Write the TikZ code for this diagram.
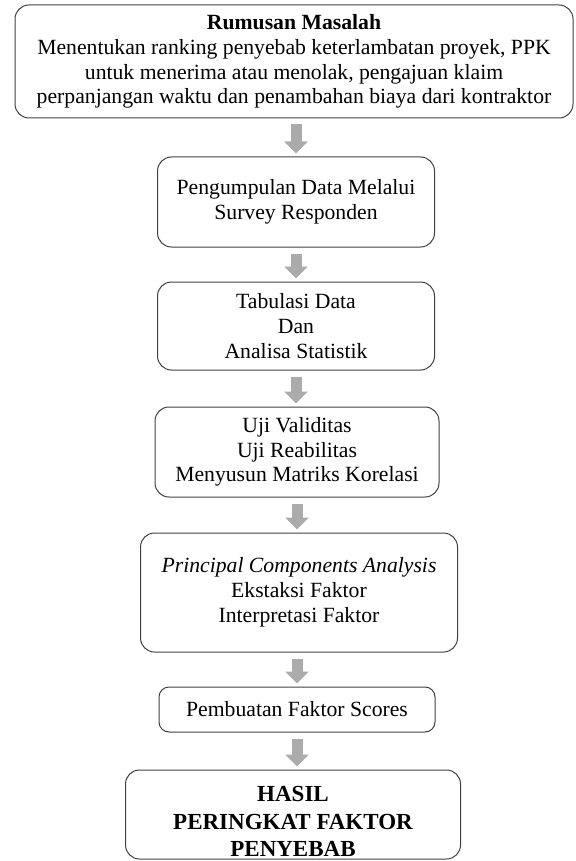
\documentclass[tikz,border=0pt]{standalone}
\usepackage{fontspec}
\setmainfont{Liberation Serif}
\usetikzlibrary{arrows.meta}

\tikzset{
  box/.style={draw=black!75,line width=1pt,rounded corners=14pt,align=center,
    font=\fontsize{21.7}{24.8}\selectfont,inner sep=0pt},
  flow/.style={draw=black!33,line width=11pt,-{Triangle[width=23pt,length=12pt]},
    shorten <=6pt,shorten >=3pt}
}

\begin{document}
\begin{tikzpicture}[x=1pt,y=-1pt]
                      \useasboundingbox (0,0) rectangle (575,861);
                      \node[box,minimum width=558pt,minimum height=113pt](masalah)at(294,61.5){\textbf{Rumusan Masalah}\\Menentukan ranking penyebab keterlambatan proyek, PPK\\untuk menerima atau menolak, pengajuan klaim\\perpanjangan waktu dan penambahan biaya dari kontraktor};
                      \node[box,minimum width=277pt,minimum height=90pt](survey)at(296,202){Pengumpulan Data Melalui\\Survey Responden};
                      \node[box,minimum width=277pt,minimum height=88pt](tabulasi)at(296,326){Tabulasi Data\\Dan\\Analisa Statistik};
                      \node[box,minimum width=284pt,minimum height=90pt](uji)at(297,452){Uji Validitas\\Uji Reabilitas\\Menyusun Matriks Korelasi};
                      \node[box,minimum width=317pt,minimum height=119pt](pca)at(299,592.5){\textit{Principal Components Analysis}\\Ekstaksi Faktor\\Interpretasi Faktor};
                      \node[box,rounded corners=10pt,minimum width=276pt,minimum height=45pt](skor)at(297,709.5){Pembuatan Faktor Scores};
                      \node[box,minimum width=335pt,minimum height=89pt,label={[align=center,yshift=-7pt,font=\fontsize{23}{27.5}\selectfont\bfseries]center:{HASIL\\PERINGKAT FAKTOR\\PENYEBAB}}](hasil)at(293,814.5){};
                      \draw[flow] (survey.north |- masalah.south) -- (survey.north);
                      \draw[flow] (survey) -- (tabulasi);
                      \draw[flow] (tabulasi.south) -- (tabulasi.south |- uji.north);
                      \draw[flow] (uji.south) -- (uji.south |- pca.north);
                      \draw[flow] (skor.north |- pca.south) -- (skor.north);
                      \draw[flow] (skor) -- (skor |- hasil.north);
                  \end{tikzpicture}
\end{document}
